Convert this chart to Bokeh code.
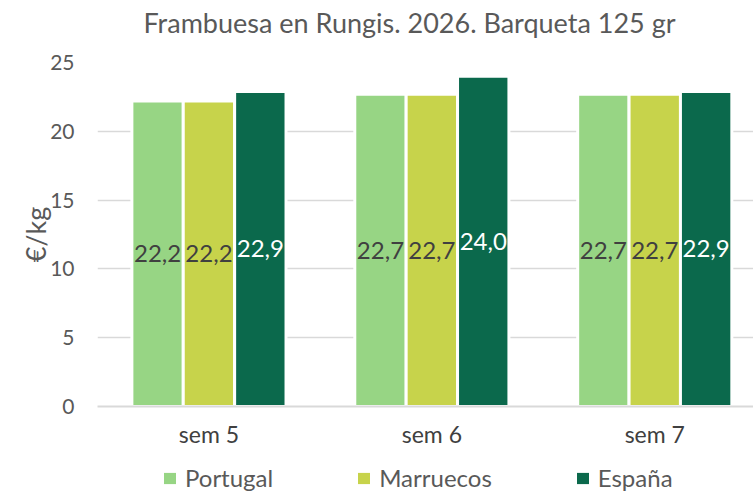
from bokeh.plotting import figure
from bokeh.layouts import column
from bokeh.models import ColumnDataSource, Range1d, FixedTicker, Legend, LegendItem, Label
from bokeh.core.properties import value
from bokeh.embed import file_html
from bokeh.resources import INLINE

title = "Frambuesa en Rungis. 2026. Barqueta 125 gr"
categories = ["sem 5", "sem 6", "sem 7"]
series_names = ["Portugal", "Marruecos", "España"]
portugal = [22.2, 22.7, 22.7]
marruecos = [22.2, 22.7, 22.7]
espana = [22.9, 24.0, 22.9]
y_ticks = [0, 5, 10, 15, 20, 25]

series = [portugal, marruecos, espana]
colors = ["#97d584", "#c7d34b", "#0b694c"]
label_colors = ["#404040", "#404040", "#ffffff"]
offsets = [-0.2305, 0.0, 0.2305]
bar_w = 0.2305

FONT = "Lato"
n = len(categories)

# title strip
tf = figure(width=753, height=40, output_backend="svg", toolbar_location=None,
            x_range=Range1d(0, 1), y_range=Range1d(0, 1),
            min_border_left=97, min_border_right=0, min_border_top=0, min_border_bottom=0)
tf.axis.visible = False
tf.grid.grid_line_color = None
tf.outline_line_color = None
tf.border_fill_color = "white"
tf.title.visible = False
tf.add_layout(Label(x=46, y=18, x_units="screen", y_units="screen", text=title,
                    text_font=FONT, text_font_size="27px", text_color="#595959",
                    text_baseline="alphabetic", text_align="left"))

p = figure(width=753, height=410, output_backend="svg", toolbar_location=None,
           x_range=Range1d(-0.5, n - 0.5 - 0.057), y_range=Range1d(0, 25),
           min_border_left=97, min_border_right=0, min_border_top=22, min_border_bottom=43)
p.outline_line_color = None
p.background_fill_color = "white"
p.border_fill_color = "white"
p.title.visible = False

# axes
p.xaxis.ticker = FixedTicker(ticks=list(range(n)))
p.xaxis.major_label_overrides = {i: c for i, c in enumerate(categories)}
p.xaxis.major_tick_line_color = None
p.xaxis.minor_tick_line_color = None
p.xaxis.axis_line_color = "#d9d9d9"
p.xaxis.axis_line_width = 2
p.xaxis.major_label_text_font = FONT
p.xaxis.major_label_text_font_size = "23px"
p.xaxis.major_label_text_color = "#404040"
p.xaxis.major_label_standoff = 7

p.yaxis.ticker = FixedTicker(ticks=y_ticks)
p.yaxis.axis_line_color = None
p.yaxis.major_tick_line_color = None
p.yaxis.minor_tick_line_color = None
p.yaxis.major_label_text_font = FONT
p.yaxis.major_label_text_font_size = "21px"
p.yaxis.major_label_text_color = "#595959"
p.yaxis.major_label_standoff = 17
p.yaxis.axis_label = "€/kg"
p.yaxis.axis_label_text_font = FONT
p.yaxis.axis_label_text_font_size = "27px"
p.yaxis.axis_label_text_font_style = "normal"
p.yaxis.axis_label_text_color = "#595959"
p.yaxis.axis_label_standoff = -5

p.xgrid.grid_line_color = None
p.ygrid.ticker = FixedTicker(ticks=y_ticks)
p.ygrid.grid_line_color = "#d9d9d9"
p.ygrid.grid_line_width = 1.5

sources = []
for name, vals, col, lc, off in zip(series_names, series, colors, label_colors, offsets):
    xs = [i + off for i in range(n)]
    src = ColumnDataSource(dict(x=xs, top=vals, mid=[v / 2 for v in vals],
                                lab=[f"{v:.1f}".replace(".", ",") for v in vals]))
    sources.append(src)
    p.vbar(x="x", top="top", width=bar_w, source=src, fill_color=col,
           line_color="white", line_width=3)
    p.text(x="x", y="mid", text="lab", source=src, text_align="center",
           text_baseline="middle", text_font=value(FONT), text_font_size="24px",
           text_color=lc)

# legend strip below the chart (its bars lie outside its visible y range)
lg = figure(width=753, height=42, output_backend="svg", toolbar_location=None,
            x_range=Range1d(-0.5, n - 0.5), y_range=Range1d(100, 101), min_border=0)
lg.axis.visible = False
lg.grid.grid_line_color = None
lg.outline_line_color = None
lg.border_fill_color = "white"
items = []
for name, col, src in zip(series_names, colors, sources):
    r = lg.vbar(x="x", top="top", width=bar_w, source=src, fill_color=col, line_color=None)
    items.append(LegendItem(label=name, renderers=[r]))
legend = Legend(items=items, orientation="horizontal", location=(65, 0))
legend.label_text_font = FONT
legend.label_text_font_size = "24px"
legend.label_text_color = "#595959"
legend.glyph_width = 15
legend.glyph_height = 14
legend.label_standoff = 8
legend.spacing = 83
legend.margin = 0
legend.padding = 0
legend.border_line_color = None
legend.background_fill_alpha = 0
lg.add_layout(legend, "center")

layout = column(tf, p, lg, spacing=0)
open("out.html", "w").write(file_html(layout, INLINE))
